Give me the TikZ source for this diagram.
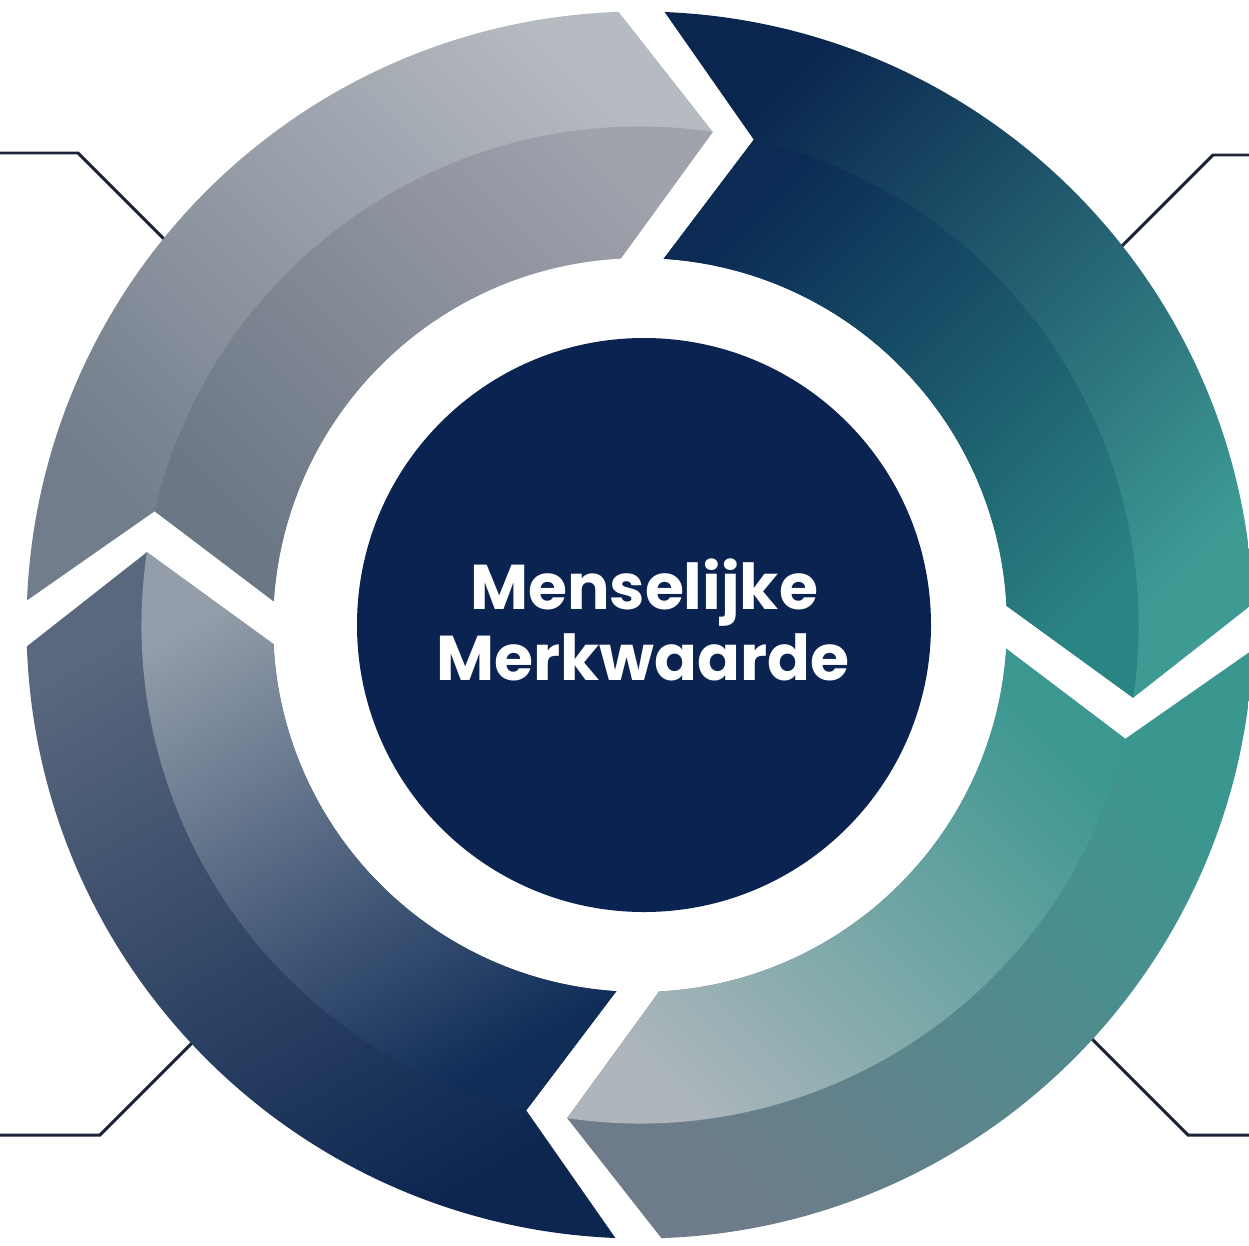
\documentclass[tikz,border=0pt]{standalone}
\usepackage{fontspec}
\newfontfamily\labelfont{Poppins}
\definecolor{leadercol}{HTML}{1B2236}
\definecolor{corecol}{HTML}{0B2350}
\begin{document}
\begin{tikzpicture}
% ring radii (outer edge, band split / arrow tips, inner edge)
\def\Ro{12.27}
\def\Rm{9.97}
\def\Ri{7.34}
\tikzset{
  leader/.style={draw=leadercol, line width=1.7pt, line join=miter},
  gray outer/.style={top color=gLight, bottom color=gDark, shading angle=-45},
  gray inner/.style={top color=gLightIn, bottom color=gDarkIn, shading angle=-45},
  teal outer/.style={top color=tTeal, bottom color=tNavy, shading angle=-135},
  teal inner/.style={top color=tTealIn, bottom color=tNavyIn, shading angle=-135},
  mix outer/.style={top color=mTeal, bottom color=mGray, shading angle=-45},
  mix inner/.style={top color=mTealIn, bottom color=mGrayIn, shading angle=-45},
  navy outer/.style={top color=nSlate, bottom color=nNavy, shading angle=30},
  navy inner/.style={top color=nSlateIn, bottom color=nNavyIn, shading angle=30},
}
\definecolor{gLight}{HTML}{B6BAC1}
\definecolor{gDark}{HTML}{727D8B}
\definecolor{gLightIn}{HTML}{A0A2AC}
\definecolor{gDarkIn}{HTML}{6C7785}
\definecolor{tTeal}{HTML}{3E9B94}
\definecolor{tNavy}{HTML}{0A264E}
\definecolor{tTealIn}{HTML}{2B8484}
\definecolor{tNavyIn}{HTML}{0B2B54}
\definecolor{mTeal}{HTML}{3A9790}
\definecolor{mGray}{HTML}{6E7B8A}
\definecolor{mTealIn}{HTML}{3D9791}
\definecolor{mGrayIn}{HTML}{AEB6BC}
\definecolor{nSlate}{HTML}{5A687E}
\definecolor{nNavy}{HTML}{0C2650}
\definecolor{nSlateIn}{HTML}{949EAA}
\definecolor{nNavyIn}{HTML}{102D58}

% one ring arrow, starting at the gap at angle #1 and running clockwise
% to the next gap; #2 styles the whole arrow (outer band), #3 the inner band
\newcommand{\ringarrow}[3]{%
  \shade[#2] ({#1-2.3}:\Ro) arc[start angle={#1-2.3}, end angle={#1-88}, radius=\Ro]
    -- ({#1-98.4}:\Rm) -- ({#1-87}:\Ri)
    arc[start angle={#1-87}, end angle={#1-3.7}, radius=\Ri]
    -- ({#1-13.2}:\Rm) -- cycle;
  \shade[#3] ({#1-98.4}:\Rm) -- ({#1-87}:\Ri)
    arc[start angle={#1-87}, end angle={#1-3.7}, radius=\Ri]
    -- ({#1-13.2}:\Rm)
    arc[start angle={#1-13.2}, end angle={#1-98.4}, radius=\Rm] -- cycle;
}

\useasboundingbox (-12.8,-12.4) rectangle (12.18,12.5);
\clip (-12.8,-12.4) rectangle (12.18,12.5);
\fill[white] (-12.8,-12.4) rectangle (12.18,12.5);

% leader lines towards the four corners
\coordinate (tlA) at (-13,9.44);   \coordinate (tlB) at (-11.24,9.44); \coordinate (tlC) at (-9.2,7.4);
\coordinate (trA) at (12.4,9.4);   \coordinate (trB) at (11.46,9.4);   \coordinate (trC) at (9.5,7.44);
\coordinate (brA) at (12.4,-10.2); \coordinate (brB) at (10.96,-10.2); \coordinate (brC) at (9.0,-8.24);
\coordinate (blA) at (-13,-10.2);  \coordinate (blB) at (-10.8,-10.2); \coordinate (blC) at (-8.9,-8.3);
\draw[leader] (tlA) -- (tlB) -- (tlC);
\draw[leader] (trA) -- (trB) -- (trC);
\draw[leader] (brA) -- (brB) -- (brC);
\draw[leader] (blA) -- (blB) -- (blC);

% the four arrows of the cycle
\ringarrow{180}{gray outer}{gray inner}
\ringarrow{90}{teal outer}{teal inner}
\ringarrow{0}{mix outer}{mix inner}
\ringarrow{-90}{navy outer}{navy inner}

% centre disc and its title
\node[circle, fill=corecol, minimum size=11.48cm, inner sep=0pt] (core) at (0.08,0) {};
\node[anchor=base, text=white, font=\labelfont\bfseries\fontsize{36}{40}\selectfont]
  (titleA) at (0.08,0.32) {Menselijke};
\node[anchor=base, text=white, font=\labelfont\bfseries\fontsize{36}{40}\selectfont]
  (titleB) at (0.06,-1.1) {Merkwaarde};
\end{tikzpicture}
\end{document}
